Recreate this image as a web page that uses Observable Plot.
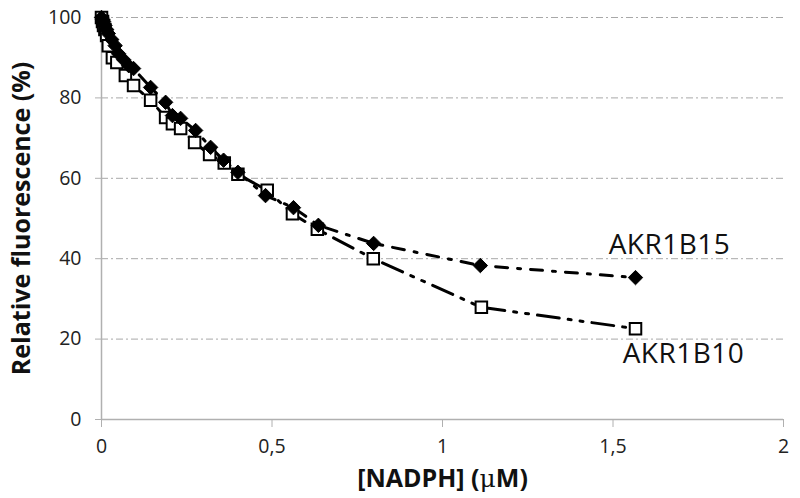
<!DOCTYPE html>
<html>
<head>
<meta charset="utf-8">
<script src="https://cdn.jsdelivr.net/npm/d3@7"></script>
<script src="https://cdn.jsdelivr.net/npm/@observablehq/plot@0.6"></script>
<style>
  html, body { margin: 0; padding: 0; background: #fff; }
  #chart { width: 800px; height: 498px; }
  svg { font-family: "Open Sans", sans-serif; }
</style>
</head>
<body>
<div id="chart"></div>
<script>
// Series names
const seriesNames = ["AKR1B15", "AKR1B10"];

// AKR1B15 (filled diamonds)
const akr1b15X = [0, 0.003, 0.006, 0.01, 0.015, 0.02, 0.03, 0.04, 0.05, 0.065, 0.08, 0.094, 0.144, 0.188, 0.208, 0.232, 0.276, 0.32, 0.358, 0.4, 0.481, 0.563, 0.636, 0.798, 1.111, 1.566];
const akr1b15Y = [100, 99.5, 99, 98, 97, 96, 94.5, 93, 91, 89.5, 88, 87.3, 82.6, 78.9, 75.6, 74.9, 71.9, 67.7, 64.5, 61.5, 55.7, 52.7, 48.3, 43.8, 38.3, 35.3];

// AKR1B10 (open squares)
const akr1b10X = [0, 0.003, 0.006, 0.01, 0.015, 0.02, 0.032, 0.045, 0.07, 0.094, 0.144, 0.188, 0.208, 0.232, 0.273, 0.317, 0.36, 0.4, 0.486, 0.56, 0.633, 0.797, 1.114, 1.566];
const akr1b10Y = [100, 99, 98, 97, 95.5, 93, 90, 88.8, 85.6, 83.1, 79.4, 75.1, 73.6, 72.4, 68.9, 65.9, 63.8, 61, 57, 51.2, 47.3, 40, 27.9, 22.6];

// Axis ticks
const xTicks = [0, 0.5, 1, 1.5, 2];
const yTicks = [0, 20, 40, 60, 80, 100];
const gridTicks = [20, 40, 60, 80, 100];

const d15 = akr1b15X.map((x, i) => ({x, y: akr1b15Y[i]}));
const d10 = akr1b10X.map((x, i) => ({x, y: akr1b10Y[i]}));
const last15 = [d15[d15.length - 1]];
const last10 = [d10[d10.length - 1]];

const axisGrey = "#b0b0b0";

const chart = Plot.plot({
  width: 800,
  height: 498,
  marginLeft: 101,
  marginRight: 17,
  marginTop: 17,
  marginBottom: 79,
  x: {domain: [0, 2]},
  y: {domain: [0, 100]},
  style: {fontFamily: "Open Sans, sans-serif", background: "#fff"},
  marks: [
    Plot.gridY(gridTicks, {stroke: "#a8a8a8", strokeOpacity: 1, strokeDasharray: "7 3 2 3"}),
    Plot.ruleX([0], {stroke: axisGrey, strokeWidth: 1.5}),
    Plot.ruleY([0], {stroke: axisGrey, strokeWidth: 1.5}),
    Plot.axisY({ticks: yTicks, tickSize: 6, tickPadding: 14, stroke: axisGrey, fontSize: 19.5, fill: "#222",
      label: "Relative fluorescence (%)", labelAnchor: "center", labelArrow: "none", labelOffset: 89}),
    Plot.axisX({ticks: xTicks, tickSize: 8, tickPadding: 12, stroke: axisGrey, fontSize: 19.5, fill: "#222",
      tickFormat: d => String(d).replace(".", ","),
      label: "[NADPH] (μM)", labelAnchor: "center", labelArrow: "none", labelOffset: 67}),
    Plot.line(d10, {x: "x", y: "y", stroke: "#000", strokeWidth: 3, strokeDasharray: "22 9 3 9 3 9"}),
    Plot.line(d15, {x: "x", y: "y", stroke: "#000", strokeWidth: 3, strokeDasharray: "12 10 3 10"}),
    Plot.dot(d10, {x: "x", y: "y", symbol: "square", r: 6.5, stroke: "#000", strokeWidth: 2, fill: "#fff"}),
    Plot.dot(d15, {x: "x", y: "y", symbol: "diamond2", r: 6.5, fill: "#000", stroke: "#000", strokeWidth: 1}),
    Plot.text(last15, {x: "x", y: "y", text: () => seriesNames[0], dx: 34, dy: -33, fontSize: 28, fill: "#111"}),
    Plot.text(last10, {x: "x", y: "y", text: () => seriesNames[1], dx: 48, dy: 25, fontSize: 28, fill: "#111"})
  ]
});

// Style axis titles bold and dark
chart.querySelectorAll("g[aria-label='y-axis label'] text, g[aria-label='x-axis label'] text").forEach(t => {
  t.setAttribute("font-weight", "bold");
  t.setAttribute("font-size", "25");
  t.setAttribute("fill", "#111");
});
const xl = chart.querySelector("g[aria-label='x-axis label'] text");
if (xl) {
  xl.textContent = "";
  const a = document.createElementNS("http://www.w3.org/2000/svg", "tspan");
  a.textContent = "[NADPH] (";
  const m = document.createElementNS("http://www.w3.org/2000/svg", "tspan");
  m.textContent = "μ";
  m.setAttribute("font-weight", "normal");
  m.setAttribute("font-family", "DejaVu Serif, serif");
  const b = document.createElementNS("http://www.w3.org/2000/svg", "tspan");
  b.textContent = "M)";
  xl.append(a, m, b);
}
chart.querySelectorAll("g[aria-label='text'] text").forEach(t => t.setAttribute("letter-spacing", "0.5"));
document.getElementById("chart").appendChild(chart);
</script>
</body>
</html>
